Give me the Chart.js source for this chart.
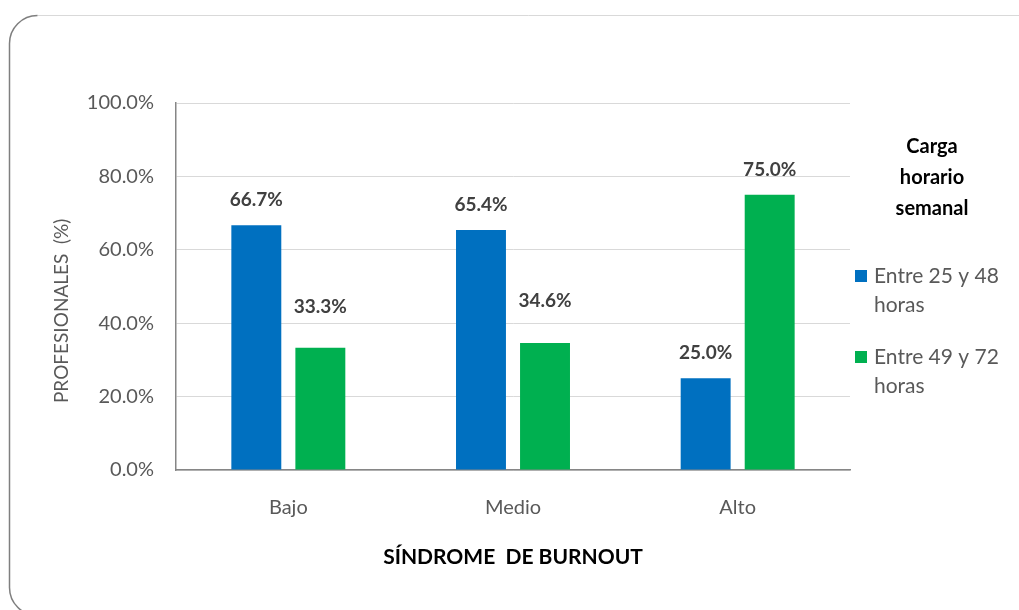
<!DOCTYPE html>
<html>
<head>
<meta charset="utf-8">
<script src="https://cdn.jsdelivr.net/npm/chart.js@4.4.0/dist/chart.umd.min.js"></script>
<style>
  body { margin: 0; background: #fff; }
  #wrap { width: 1019px; height: 610px; }
</style>
</head>
<body>
<div id="wrap"><canvas id="barChart" width="1019" height="610"></canvas></div>
<script>
// datos del grafico
var categories = ["Bajo", "Medio", "Alto"];
var seriesNames = [["Entre 25 y 48", "horas"], ["Entre 49 y 72", "horas"]];
var horas25a48 = [66.7, 65.4, 25.0];
var horas49a72 = [33.3, 34.6, 75.0];
var yTicks = [0, 20, 40, 60, 80, 100];
var legendTitle = ["Carga", "horario", "semanal"];

var FONT = "Lato, 'Open Sans', sans-serif";

// marco redondeado y fondo
var framePlugin = {
  id: 'frame',
  beforeDraw: function (chart) {
    var ctx = chart.ctx;
    ctx.save();
    ctx.fillStyle = '#fff';
    ctx.fillRect(0, 0, chart.width, chart.height);
    var x = 9.5, y = 15.5, r = 28, w = 1100, h = 600;
    ctx.lineWidth = 1;
    ctx.strokeStyle = '#d9d9d9';
    ctx.beginPath();
    ctx.moveTo(x + r, y);
    ctx.lineTo(x + w, y);
    ctx.stroke();
    ctx.strokeStyle = '#7f7f7f';
    ctx.lineWidth = 1.5;
    ctx.beginPath();
    ctx.moveTo(x + r, y);
    ctx.arcTo(x, y, x, y + r, r);
    ctx.lineTo(x, y + h - r);
    ctx.arcTo(x, y + h, x + r, y + h, r);
    ctx.stroke();
    ctx.restore();
  }
};

// etiquetas de valor sobre las barras
var barLabelPlugin = {
  id: 'barLabels',
  afterDatasetsDraw: function (chart, args, opts) {
    var ctx = chart.ctx;
    ctx.save();
    ctx.font = 'bold 19px ' + FONT;
    ctx.fillStyle = '#404040';
    ctx.textAlign = 'center';
    ctx.textBaseline = 'middle';
    chart.data.datasets.forEach(function (ds, i) {
      chart.getDatasetMeta(i).data.forEach(function (bar, j) {
        ctx.fillText(ds.data[j].toFixed(1) + '%', bar.x, bar.y - opts.lift[i][j]);
      });
    });
    ctx.restore();
  }
};

// leyenda a la derecha
var sideLegendPlugin = {
  id: 'sideLegend',
  afterDraw: function (chart) {
    var ctx = chart.ctx;
    ctx.save();
    ctx.textBaseline = 'middle';
    ctx.font = 'bold 20px ' + FONT;
    ctx.fillStyle = '#000';
    ctx.textAlign = 'center';
    legendTitle.forEach(function (t, k) {
      ctx.fillText(t, 932, 147 + k * 31);
    });
    ctx.font = '21px ' + FONT;
    ctx.textAlign = 'left';
    chart.data.datasets.forEach(function (ds, i) {
      var top = 276 + i * 81;
      ctx.fillStyle = ds.backgroundColor;
      ctx.fillRect(855, top - 6, 12, 12);
      ctx.fillStyle = '#595959';
      seriesNames[i].forEach(function (line, k) {
        ctx.fillText(line, 874, top + k * 29);
      });
    });
    ctx.restore();
  }
};

var ctx = document.getElementById("barChart").getContext("2d");
var myBarChart = new Chart(ctx, {
  type: 'bar',
  data: {
    labels: categories,
    datasets: [
      { label: seriesNames[0].join(' '), data: horas25a48, backgroundColor: '#0070C0' },
      { label: seriesNames[1].join(' '), data: horas49a72, backgroundColor: '#00B050' }
    ]
  },
  options: {
    responsive: false,
    animation: false,
    categoryPercentage: 0.57,
    barPercentage: 0.78,
    layout: { padding: { top: 103, right: 169, left: 0, bottom: 0 } },
    plugins: {
      legend: { display: false },
      tooltip: { enabled: false },
      barLabels: { lift: [[25, 25, 25], [41, 42, 25]] }
    },
    scales: {
      x: {
        grid: { display: false },
        border: { display: true, color: '#868686', width: 1.5 },
        ticks: { color: '#595959', font: { family: FONT, size: 20 }, padding: 18 },
        title: {
          display: true,
          text: 'SÍNDROME  DE BURNOUT',
          color: '#000',
          font: { family: FONT, size: 21, weight: 'bold' },
          padding: { top: 0, bottom: 40 }
        },
        afterFit: function (scale) { scale.height = 140; }
      },
      y: {
        min: 0,
        max: 100,
        afterBuildTicks: function (scale) {
          scale.ticks = yTicks.map(function (v) { return { value: v }; });
        },
        grid: { color: '#d9d9d9', lineWidth: 1, drawTicks: false },
        border: { display: true, color: '#868686', width: 1.5 },
        ticks: {
          color: '#595959',
          font: { family: FONT, size: 20 },
          padding: 22,
          callback: function (v) { return v.toFixed(1) + '%'; }
        },
        title: {
          display: true,
          text: 'PROFESIONALES  (%)          ',
          color: '#595959',
          font: { family: FONT, size: 19 },
          padding: { top: 50, bottom: 0 }
        },
        afterFit: function (scale) { scale.width = 176; }
      }
    }
  },
  plugins: [framePlugin, barLabelPlugin, sideLegendPlugin]
});
</script>
</body>
</html>
